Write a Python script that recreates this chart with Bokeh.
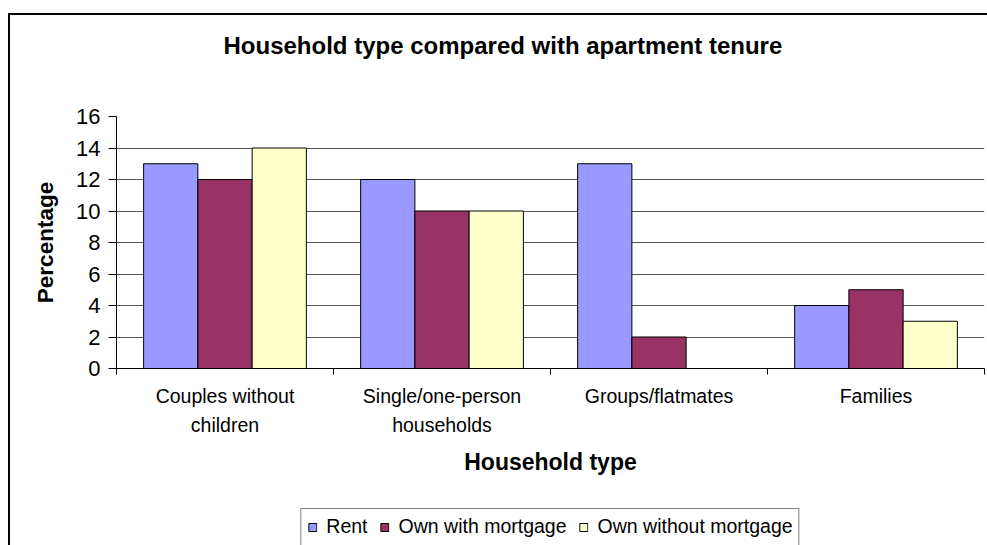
import numpy as np
from bokeh.plotting import figure
from bokeh.layouts import column
from bokeh.models import Range1d, FixedTicker, Title, Legend, LegendItem
from bokeh.embed import file_html
from bokeh.resources import INLINE

# ---- data ----
categories = ["Couples without\nchildren", "Single/one-person\nhouseholds", "Groups/flatmates", "Families"]
series = ["Rent", "Own with mortgage", "Own without mortgage"]
rent = [13, 12, 13, 4]
own_mortgage = [12, 10, 2, 5]
own_outright = [14, 10, 0, 3]
y_ticks = [0, 2, 4, 6, 8, 10, 12, 14, 16]
title_text = "Household type compared with apartment tenure"
x_title = "Household type"
y_title = "Percentage"

colors = ["#9999FF", "#993366", "#FFFFCC"]
FONT = "Liberation Sans"

n = len(categories)
centers = np.arange(n) + 0.5
bar_w = 0.25
offsets = [-bar_w, 0.0, bar_w]
values = [rent, own_mortgage, own_outright]

p = figure(
    frame_width=868, frame_height=252,
    min_border_left=106, min_border_right=3, min_border_top=101, min_border_bottom=135,
    x_range=Range1d(0, n), y_range=Range1d(0, 16),
    output_backend="svg", toolbar_location=None, tools="",
)
p.background_fill_color = "white"
p.border_fill_color = "white"
p.outline_line_color = None

for vals, col, off in zip(values, colors, offsets):
    p.vbar(x=list(centers + off), top=vals, width=bar_w, fill_color=col,
           line_color="black", line_width=1)

# y axis
p.yaxis.ticker = FixedTicker(ticks=y_ticks, minor_ticks=[])
p.yaxis.major_tick_out = 8
p.yaxis.major_tick_in = 0
p.yaxis.minor_tick_out = 0
p.yaxis.axis_line_color = "black"
p.yaxis.major_tick_line_color = "black"
p.yaxis.major_label_text_font = FONT
p.yaxis.major_label_text_font_size = "22px"
p.yaxis.major_label_text_color = "black"
p.yaxis.major_label_standoff = 8
p.yaxis.axis_label = y_title
p.yaxis.axis_label_text_font = FONT
p.yaxis.axis_label_text_font_size = "22.5px"
p.yaxis.axis_label_text_font_style = "bold"
p.yaxis.axis_label_text_color = "black"
p.yaxis.axis_label_standoff = 15

# x axis
p.xaxis.ticker = FixedTicker(ticks=list(centers), minor_ticks=list(range(n + 1)))
p.xaxis.major_label_overrides = {float(c): lab for c, lab in zip(centers, categories)}
p.xaxis.major_tick_out = 0
p.xaxis.major_tick_in = 0
p.xaxis.minor_tick_out = 6
p.xaxis.minor_tick_in = 0
p.xaxis.minor_tick_line_color = "black"
p.xaxis.axis_line_color = "black"
p.xaxis.major_label_text_font = FONT
p.xaxis.major_label_text_font_size = "19.5px"
p.xaxis.major_label_text_color = "black"
p.xaxis.major_label_text_line_height = 1.32
p.xaxis.major_label_standoff = 10
p.xaxis.axis_label = x_title
p.xaxis.axis_label_text_font = FONT
p.xaxis.axis_label_text_font_size = "23px"
p.xaxis.axis_label_text_font_style = "bold"
p.xaxis.axis_label_text_color = "black"
p.xaxis.axis_label_standoff = 10

p.xgrid.visible = False
p.ygrid.grid_line_color = "#555555"
p.ygrid.grid_line_width = 1

# title: spacer nearest the frame, then the title itself
p.add_layout(Title(text=" ", text_font_size="1px", standoff=55), "above")
p.title.text = title_text
p.title.text_font = FONT
p.title.text_font_size = "24px"
p.title.text_font_style = "bold"
p.title.text_color = "black"
p.title.align = "left"
p.title.offset = 107
p.title.standoff = 0
p.title.vertical_align = "bottom"

# ---- legend strip (second figure; its bars lie outside its visible range) ----
q = figure(
    frame_width=868, frame_height=42,
    min_border_left=106, min_border_right=3, min_border_top=0, min_border_bottom=0,
    x_range=Range1d(0, n), y_range=Range1d(100, 101),
    x_axis_type=None, y_axis_type=None,
    output_backend="svg", toolbar_location=None, tools="",
)
q.background_fill_color = "white"
q.border_fill_color = "white"
q.outline_line_color = None
q.xgrid.visible = False
q.ygrid.visible = False
legend_renderers = []
for vals, col, off in zip(values, colors, offsets):
    r = q.vbar(x=list(centers + off), top=vals, width=bar_w, fill_color=col,
               line_color="black", line_width=1)
    legend_renderers.append(r)

lg = Legend(items=[LegendItem(label=s, renderers=[r]) for s, r in zip(series, legend_renderers)])
lg.orientation = "horizontal"
lg.location = "top_center"
lg.margin = 5
lg.label_text_font = FONT
lg.label_text_font_size = "19.5px"
lg.label_text_color = "black"
lg.glyph_width = 10
lg.glyph_height = 10
lg.label_standoff = 9
lg.spacing = 12
lg.padding = 6
lg.title = " "
lg.title_location = "below"
lg.title_text_font_size = "10px"
lg.title_standoff = 5
lg.border_line_color = "black"
lg.border_line_width = 1
lg.background_fill_color = "white"
lg.background_fill_alpha = 1
q.add_layout(lg, "center")

layout = column(p, q, spacing=0,
                styles={"margin-left": "8px", "margin-top": "13px",
                        "border-top": "2px solid black", "border-left": "2px solid black"})

open("out.html", "w").write(file_html(layout, INLINE))
